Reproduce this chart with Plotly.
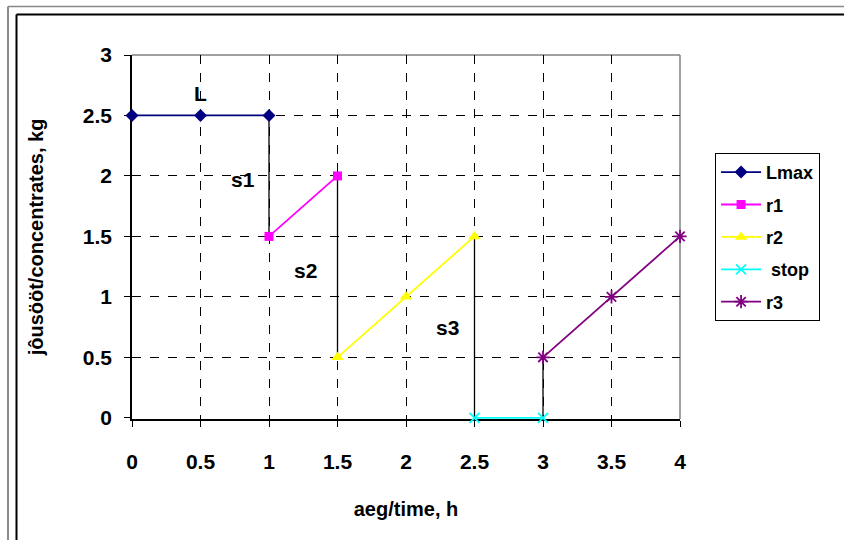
import plotly.graph_objects as go

# Data
lmax_x = [0, 0.5, 1]
lmax_y = [2.5, 2.5, 2.5]
r1_x = [1, 1.5]
r1_y = [1.5, 2]
r2_x = [1.5, 2, 2.5]
r2_y = [0.5, 1, 1.5]
stop_x = [2.5, 3]
stop_y = [0, 0]
r3_x = [3, 3.5, 4]
r3_y = [0.5, 1, 1.5]

series_names = ["Lmax", "r1", "r2", " stop", "r3"]
x_ticks = [0, 0.5, 1, 1.5, 2, 2.5, 3, 3.5, 4]
y_ticks = [0, 0.5, 1, 1.5, 2, 2.5, 3]
grid_x = [0.5, 1, 1.5, 2, 2.5, 3, 3.5]
grid_y = [0.5, 1, 1.5, 2, 2.5]

labels_text = ["L", "s1", "s2", "s3"]
labels_x = [0.5, 0.81, 1.27, 2.3]
labels_y = [2.68, 1.97, 1.22, 0.75]

FONT = "Liberation Sans"

series = [
    (lmax_x, lmax_y, "#000080", dict(symbol="diamond", size=10)),
    (r1_x, r1_y, "#FF00FF", dict(symbol="square", size=9)),
    (r2_x, r2_y, "#FFFF00", dict(symbol="triangle-up", size=11)),
    (stop_x, stop_y, "#00FFFF", dict(symbol="x-thin-open", size=10)),
    (r3_x, r3_y, "#800080", dict(symbol="asterisk-open", size=11)),
]

# connecting drop lines between consecutive series
cx, cy = [], []
for a, b in zip(series[:-1], series[1:]):
    cx += [a[0][-1], b[0][0], None]
    cy += [a[1][-1], b[1][0], None]

fig = go.Figure()
fig.add_trace(go.Scatter(x=cx, y=cy, mode="lines", line=dict(color="black", width=1.3),
                         showlegend=False, hoverinfo="skip", cliponaxis=False))

for (xs, ys, col, mk), name in zip(series, series_names):
    m = dict(color=col, **mk)
    if mk["symbol"].endswith("open"):
        m["line"] = dict(color=col, width=1.8)
    fig.add_trace(go.Scatter(x=xs, y=ys, mode="lines+markers", name=name,
                             legendgroup=name, cliponaxis=False,
                             line=dict(color=col, width=1.8), marker=m))

for t, x, y in zip(labels_text, labels_x, labels_y):
    fig.add_annotation(x=x, y=y, text=t, showarrow=False,
                       font=dict(family=FONT, size=21, color="black", weight="bold"))

# chart frame (top-left portion visible)
pl = lambda px: (px - 132) / 548
pt = lambda py: (419 - py) / 364
shapes = [
    dict(type="line", xref="paper", yref="paper", x0=pl(8), x1=pl(8), y0=pt(6.5), y1=pt(560),
         line=dict(color="#666666", width=1.5)),
    dict(type="line", xref="paper", yref="paper", x0=pl(16.5), x1=pl(16.5), y0=pt(14.5), y1=pt(560),
         line=dict(color="black", width=2)),
    dict(type="line", xref="paper", yref="paper", x0=pl(8), x1=pl(860), y0=pt(6.5), y1=pt(6.5),
         line=dict(color="#888888", width=1.5)),
    dict(type="line", xref="paper", yref="paper", x0=pl(16.5), x1=pl(860), y0=pt(14.5), y1=pt(14.5),
         line=dict(color="black", width=2)),
    # plot area top/right gray border
    dict(type="line", xref="paper", yref="paper", x0=0, x1=1, y0=1, y1=1,
         line=dict(color="#808080", width=1.5), layer="below"),
    dict(type="line", xref="paper", yref="paper", x0=1, x1=1, y0=0, y1=1,
         line=dict(color="#808080", width=1.5), layer="below"),
]

fig.update_layout(
    width=844, height=540,
    margin=dict(l=132, r=164, t=55, b=121),
    paper_bgcolor="white", plot_bgcolor="white",
    font=dict(family=FONT, color="black", weight="bold"),
    shapes=shapes,
    showlegend=True,
    legend=dict(x=1.064, y=0.731, xanchor="left", yanchor="top",
                bordercolor="black", borderwidth=1, bgcolor="white",
                font=dict(family=FONT, size=18, weight="bold"),
                tracegroupgap=6, itemwidth=40),
    xaxis=dict(range=[0, 4], tickvals=x_ticks, ticktext=[f"{v:g}" for v in x_ticks],
               showgrid=False, zeroline=False, layer="below traces",
               showline=True, linecolor="black", linewidth=1.5,
               ticks="outside", ticklen=6, tickcolor="black", tickwidth=1.3,
               ticklabelstandoff=17,
               tickfont=dict(family=FONT, size=21, weight="bold"),
               title=dict(text="aeg/time, h", font=dict(family=FONT, size=20, weight="bold"), standoff=30),
               minor=dict(tickvals=grid_x, showgrid=True, gridcolor="black", griddash="dash",
                          gridwidth=1, ticks="")),
    yaxis=dict(range=[-0.01, 3], tickvals=y_ticks, ticktext=[f"{v:g}" for v in y_ticks],
               showgrid=False, zeroline=False, layer="below traces",
               showline=True, linecolor="black", linewidth=1.5,
               ticks="outside", ticklen=6, tickcolor="black", tickwidth=1.3,
               ticklabelstandoff=8,
               tickfont=dict(family=FONT, size=21, weight="bold"),
               title=dict(text="jôusööt/concentrates, kg", font=dict(family=FONT, size=20, weight="bold"), standoff=34),
               minor=dict(tickvals=grid_y, showgrid=True, gridcolor="black", griddash="dash",
                          gridwidth=1, ticks="")),
)

fig.write_html("out.html")
